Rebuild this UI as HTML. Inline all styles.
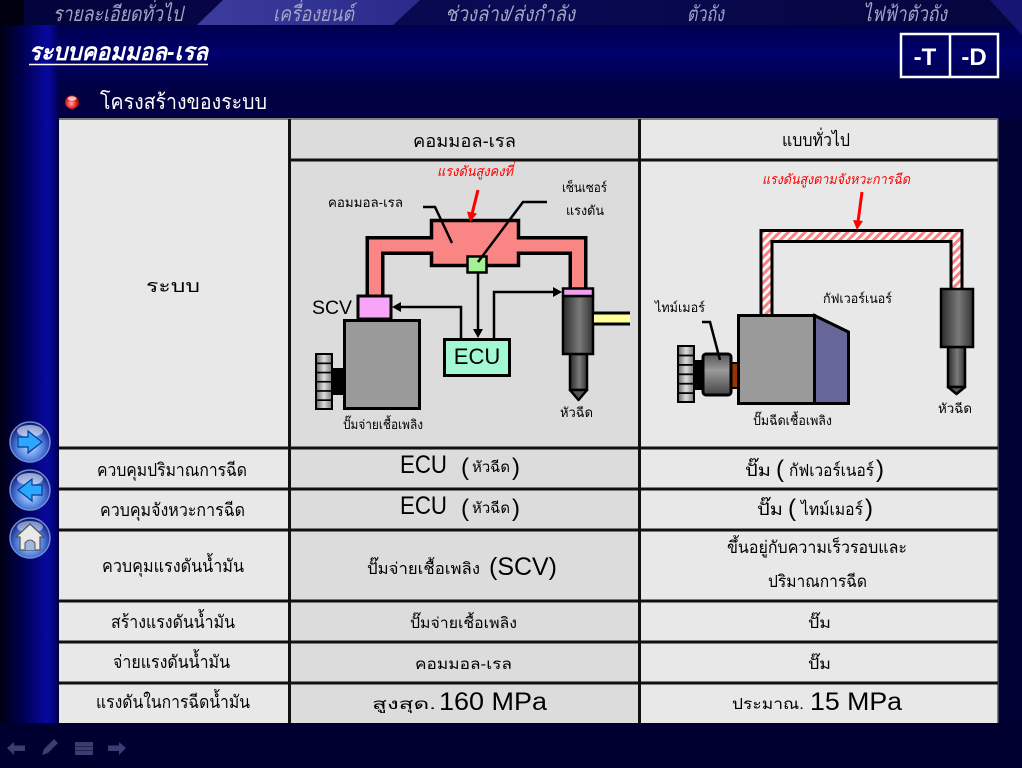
<!DOCTYPE html>
<html><head><meta charset="utf-8"><style>
html,body{margin:0;padding:0;background:#000033;}
body{width:1022px;height:768px;overflow:hidden;}
svg{display:block;}
text{font-family:"Liberation Sans",sans-serif;}
.th{font-family:"Liberation Sans","Noto Sans CJK SC",sans-serif;}
</style></head><body>
<svg width="1022" height="768" viewBox="0 0 1022 768" xmlns="http://www.w3.org/2000/svg">
<defs>
<linearGradient id="navG" x1="0" y1="0" x2="1" y2="0"><stop offset="0" stop-color="#03033a"/><stop offset="0.5" stop-color="#0a0a55"/><stop offset="1" stop-color="#05053e"/></linearGradient>
<linearGradient id="tabG" x1="0" y1="0" x2="1" y2="0"><stop offset="0" stop-color="#3c3c9c"/><stop offset="1" stop-color="#2a2a8a"/></linearGradient>
<linearGradient id="bandG" x1="0" y1="0" x2="0" y2="1"><stop offset="0" stop-color="#00004e"/><stop offset="0.45" stop-color="#00006c"/><stop offset="1" stop-color="#000040"/></linearGradient>
<linearGradient id="sideG" x1="0" y1="0" x2="1" y2="0"><stop offset="0" stop-color="#000015"/><stop offset="0.35" stop-color="#00004a"/><stop offset="0.82" stop-color="#0808a0"/><stop offset="1" stop-color="#000060"/></linearGradient>
<linearGradient id="injG" x1="0" y1="0" x2="1" y2="0"><stop offset="0" stop-color="#2a2a2a"/><stop offset="0.55" stop-color="#7a7a7a"/><stop offset="1" stop-color="#333"/></linearGradient>
<linearGradient id="gearG" x1="0" y1="0" x2="1" y2="0"><stop offset="0" stop-color="#777"/><stop offset="0.5" stop-color="#ddd"/><stop offset="1" stop-color="#888"/></linearGradient>
<linearGradient id="timG" x1="0" y1="0" x2="0" y2="1"><stop offset="0" stop-color="#555"/><stop offset="0.4" stop-color="#9a9a9a"/><stop offset="1" stop-color="#444"/></linearGradient>
<radialGradient id="btnG" cx="0.5" cy="0.62" r="0.6"><stop offset="0" stop-color="#c0e0ff"/><stop offset="0.55" stop-color="#5080e0"/><stop offset="0.9" stop-color="#1a2c90"/><stop offset="1" stop-color="#0c1460"/></radialGradient>
<radialGradient id="ballG" cx="0.45" cy="0.6" r="0.6"><stop offset="0" stop-color="#ffb0b0"/><stop offset="0.6" stop-color="#e02020"/><stop offset="1" stop-color="#700000"/></radialGradient>
<pattern id="hatch" width="6" height="6" patternUnits="userSpaceOnUse" patternTransform="rotate(45)"><rect width="6" height="6" fill="#ffffff"/><rect width="3" height="6" fill="#ff7f7f"/></pattern>
</defs>

<!-- background -->
<rect x="0" y="0" width="1022" height="768" fill="#000033"/>
<rect x="0" y="25" width="1022" height="65" fill="url(#bandG)"/>
<rect x="0" y="88" width="1022" height="31" fill="#000042"/>
<rect x="0" y="0" width="1022" height="25" fill="url(#navG)"/>
<polygon points="223,0 420,0 393,25 197,25" fill="url(#tabG)"/>
<polygon points="990,0 1022,0 1022,35" fill="#1a1a80" opacity="0.8"/>
<rect x="0" y="25" width="58" height="718" fill="url(#sideG)"/>
<rect x="0" y="0" width="24" height="25" fill="#000010"/>
<rect x="0" y="723" width="1022" height="45" fill="#000030"/>

<!-- nav text -->
<g class="th" fill="#a4a4c4" font-style="italic" font-size="21" font-family="Liberation Serif, serif">
<text x="53" y="21" textLength="130" lengthAdjust="spacingAndGlyphs">รายละเอียดทั่วไป</text>
<text x="273" y="21" textLength="81" lengthAdjust="spacingAndGlyphs">เครื่องยนต์</text>
<text x="445" y="21" textLength="130" lengthAdjust="spacingAndGlyphs">ช่วงล่าง/ส่งกำลัง</text>
<text x="687" y="21" textLength="37" lengthAdjust="spacingAndGlyphs">ตัวถัง</text>
<text x="863" y="21" textLength="84" lengthAdjust="spacingAndGlyphs">ไฟฟ้าตัวถัง</text>
</g>

<!-- title -->
<text class="th" x="29" y="60" fill="#ffffff" font-size="24" font-weight="bold" font-style="italic" textLength="179" lengthAdjust="spacingAndGlyphs">ระบบคอมมอล-เรล</text>
<line x1="29" y1="64.5" x2="208" y2="64.5" stroke="#ffffff" stroke-width="1.5"/>

<!-- -T -D -->
<rect x="901" y="34" width="97" height="43" fill="none" stroke="#ffffff" stroke-width="2.5"/>
<line x1="950" y1="34" x2="950" y2="77" stroke="#ffffff" stroke-width="2.5"/>
<text x="925" y="65" fill="#ffffff" font-size="24" font-weight="bold" text-anchor="middle">-T</text>
<text x="974" y="65" fill="#ffffff" font-size="24" font-weight="bold" text-anchor="middle">-D</text>

<!-- heading -->
<circle cx="72" cy="102" r="7" fill="url(#ballG)"/>
<ellipse cx="72" cy="98.5" rx="4.5" ry="2.2" fill="#ffffff" opacity="0.7"/>
<text class="th" x="100" y="109" fill="#ffffff" font-size="21" textLength="167" lengthAdjust="spacingAndGlyphs">โครงสร้างของระบบ</text>

<!-- table backgrounds -->
<rect x="59" y="119" width="230" height="604" fill="#e8e8e8"/>
<rect x="291" y="119" width="348" height="604" fill="#dcdcdc"/>
<rect x="641" y="119" width="357" height="604" fill="#e8e8e8"/>
<rect x="59" y="118" width="939" height="2" fill="#808080"/>
<rect x="997" y="119" width="1.5" height="604" fill="#808080"/>
<!-- table lines -->
<g fill="#111">
<rect x="288" y="119" width="3" height="604"/>
<rect x="638" y="119" width="3" height="604"/>
<rect x="288" y="158.5" width="710" height="3"/>
<rect x="59" y="446.5" width="939" height="3"/>
<rect x="59" y="487.5" width="939" height="3"/>
<rect x="59" y="528.5" width="939" height="3"/>
<rect x="59" y="599.5" width="939" height="3"/>
<rect x="59" y="640.5" width="939" height="3"/>
<rect x="59" y="681.5" width="939" height="3"/>
</g>

<!-- table text -->
<g class="th" fill="#000" font-size="18">
<text x="146" y="292" textLength="54" lengthAdjust="spacingAndGlyphs">ระบบ</text>
<text x="413" y="147" textLength="103" lengthAdjust="spacingAndGlyphs">คอมมอล-เรล</text>
<text x="782" y="146" textLength="68" lengthAdjust="spacingAndGlyphs">แบบทั่วไป</text>

<text x="97" y="476" textLength="150" lengthAdjust="spacingAndGlyphs">ควบคุมปริมาณการฉีด</text>
<text x="100" y="516" textLength="145" lengthAdjust="spacingAndGlyphs">ควบคุมจังหวะการฉีด</text>
<text x="102" y="572" textLength="142" lengthAdjust="spacingAndGlyphs">ควบคุมแรงดันน้ำมัน</text>
<text x="111" y="628" textLength="124" lengthAdjust="spacingAndGlyphs">สร้างแรงดันน้ำมัน</text>
<text x="113" y="668" textLength="117" lengthAdjust="spacingAndGlyphs">จ่ายแรงดันน้ำมัน</text>
<text x="96" y="708" textLength="154" lengthAdjust="spacingAndGlyphs">แรงดันในการฉีดน้ำมัน</text>

<!-- col2 -->
<text x="400" y="473" font-size="25" textLength="47" lengthAdjust="spacingAndGlyphs">ECU</text>
<text x="461" y="475" font-size="24">(</text>
<text x="472" y="472" font-size="15" textLength="38" lengthAdjust="spacingAndGlyphs">หัวฉีด</text>
<text x="512" y="475" font-size="24">)</text>
<text x="400" y="514" font-size="25" textLength="47" lengthAdjust="spacingAndGlyphs">ECU</text>
<text x="461" y="516" font-size="24">(</text>
<text x="472" y="513" font-size="15" textLength="38" lengthAdjust="spacingAndGlyphs">หัวฉีด</text>
<text x="512" y="516" font-size="24">)</text>
<text x="367" y="574" font-size="16" textLength="113" lengthAdjust="spacingAndGlyphs">ปั๊มจ่ายเชื้อเพลิง</text>
<text x="489" y="575" font-size="25" textLength="68" lengthAdjust="spacingAndGlyphs">(SCV)</text>
<text x="410" y="628" font-size="15" textLength="107" lengthAdjust="spacingAndGlyphs">ปั๊มจ่ายเชื้อเพลิง</text>
<text x="415" y="669" font-size="15" textLength="97" lengthAdjust="spacingAndGlyphs">คอมมอล-เรล</text>
<text x="372" y="709" font-size="15" textLength="64" lengthAdjust="spacingAndGlyphs">สูงสุด.</text>
<text x="439" y="710" font-size="25" textLength="108" lengthAdjust="spacingAndGlyphs">160 MPa</text>

<!-- col3 -->
<text x="745" y="476" font-size="17" textLength="26" lengthAdjust="spacingAndGlyphs">ปั๊ม</text>
<text x="776" y="477" font-size="24">(</text>
<text x="789" y="476" font-size="17" textLength="85" lengthAdjust="spacingAndGlyphs">กัฟเวอร์เนอร์</text>
<text x="876" y="477" font-size="24">)</text>
<text x="757" y="515" font-size="17" textLength="26" lengthAdjust="spacingAndGlyphs">ปั๊ม</text>
<text x="788" y="516" font-size="24">(</text>
<text x="801" y="515" font-size="17" textLength="62" lengthAdjust="spacingAndGlyphs">ไทม์เมอร์</text>
<text x="865" y="516" font-size="24">)</text>
<text x="727" y="553" font-size="17" textLength="180" lengthAdjust="spacingAndGlyphs">ขึ้นอยู่กับความเร็วรอบและ</text>
<text x="768" y="587" font-size="17" textLength="99" lengthAdjust="spacingAndGlyphs">ปริมาณการฉีด</text>
<text x="808" y="628" font-size="15" textLength="23" lengthAdjust="spacingAndGlyphs">ปั๊ม</text>
<text x="808" y="669" font-size="15" textLength="23" lengthAdjust="spacingAndGlyphs">ปั๊ม</text>
<text x="732" y="709" font-size="15" textLength="72" lengthAdjust="spacingAndGlyphs">ประมาณ.</text>
<text x="810" y="710" font-size="25" textLength="92" lengthAdjust="spacingAndGlyphs">15 MPa</text>
</g>

<!-- ===== LEFT DIAGRAM ===== -->
<g>
<!-- pipes black -->
<path d="M375,297 V245.5 H436" fill="none" stroke="#000" stroke-width="19" stroke-linejoin="miter"/>
<path d="M514,245.5 H578 V290" fill="none" stroke="#000" stroke-width="19" stroke-linejoin="miter"/>
<!-- rail -->
<rect x="431.5" y="220.5" width="87" height="45" fill="#f98585" stroke="#000" stroke-width="3.5"/>
<!-- pipes pink -->
<path d="M375,297 V245.5 H436" fill="none" stroke="#f98585" stroke-width="12" stroke-linejoin="miter"/>
<path d="M514,245.5 H578 V290" fill="none" stroke="#f98585" stroke-width="12" stroke-linejoin="miter"/>
<!-- sensor -->
<rect x="467.5" y="256.5" width="19" height="16" fill="#a4f094" stroke="#000" stroke-width="2.5"/>
<!-- leaders -->
<path d="M423,207 H435 L452,243" fill="none" stroke="#000" stroke-width="2.5"/>
<path d="M547,202 H523 L478,262" fill="none" stroke="#000" stroke-width="2.5"/>
<!-- signal lines -->
<path d="M478,273 V331" fill="none" stroke="#000" stroke-width="2.5"/>
<polygon points="473,329 483,329 478,338" fill="#000"/>
<path d="M461,338 V307 H400" fill="none" stroke="#000" stroke-width="2.5"/>
<polygon points="401,302 401,312 392,307" fill="#000"/>
<path d="M494,338 V292 H554" fill="none" stroke="#000" stroke-width="2.5"/>
<polygon points="553,287 553,297 562,292" fill="#000"/>
<!-- ECU -->
<rect x="444.5" y="339.5" width="65" height="36" fill="#a2f8d2" stroke="#000" stroke-width="3"/>
<text x="477" y="364" font-size="22" text-anchor="middle" fill="#000">ECU</text>
<!-- SCV -->
<rect x="358" y="296" width="33" height="23" fill="#f8a4f8" stroke="#000" stroke-width="3"/>
<text x="312" y="314" font-size="19" fill="#000" textLength="40" lengthAdjust="spacingAndGlyphs">SCV</text>
<!-- pump -->
<rect x="344.5" y="320.5" width="75" height="88" fill="#9a9a9a" stroke="#000" stroke-width="3"/>
<rect x="333" y="368" width="11" height="27" fill="#000"/>
<rect x="315" y="353" width="18" height="57" fill="#000"/>
<g fill="url(#gearG)">
<rect x="317" y="355" width="14" height="7.5"/><rect x="317" y="364.2" width="14" height="7.5"/><rect x="317" y="373.4" width="14" height="7.5"/><rect x="317" y="382.6" width="14" height="7.5"/><rect x="317" y="391.8" width="14" height="7.5"/><rect x="317" y="401" width="14" height="7"/>
</g>
<!-- injector -->
<rect x="570" y="354" width="17" height="36" fill="url(#injG)" stroke="#000" stroke-width="2.5"/>
<polygon points="570,390 587,390 578.5,400" fill="#555" stroke="#000" stroke-width="2.5" stroke-linejoin="round"/>
<rect x="563" y="296" width="30" height="58" fill="url(#injG)" stroke="#000" stroke-width="2.5"/>
<rect x="563" y="288.5" width="30" height="7.5" fill="#f0a0f0" stroke="#000" stroke-width="2.5"/>
<rect x="594" y="313" width="36" height="11" fill="#ffff99"/>
<line x1="594" y1="313" x2="630" y2="313" stroke="#000" stroke-width="3"/>
<line x1="594" y1="324" x2="630" y2="324" stroke="#000" stroke-width="3"/>
<!-- red arrow -->
<line x1="478" y1="190" x2="472" y2="214" stroke="#ff0000" stroke-width="3"/>
<polygon points="477,213.5 467,211.5 470,222" fill="#ff0000"/>
<!-- labels -->
<g class="th" fill="#000" font-size="13">
<text x="437" y="176" fill="#ff0000" font-style="italic" font-size="14" textLength="76" lengthAdjust="spacingAndGlyphs">แรงดันสูงคงที่</text>
<text x="328" y="207" textLength="75" lengthAdjust="spacingAndGlyphs">คอมมอล-เรล</text>
<text x="562" y="192" textLength="45" lengthAdjust="spacingAndGlyphs">เซ็นเซอร์</text>
<text x="566" y="215" textLength="38" lengthAdjust="spacingAndGlyphs">แรงดัน</text>
<text x="343" y="429" textLength="80" lengthAdjust="spacingAndGlyphs">ปั๊มจ่ายเชื้อเพลิง</text>
<text x="560" y="417" textLength="33" lengthAdjust="spacingAndGlyphs">หัวฉีด</text>
</g>
</g>

<!-- ===== RIGHT DIAGRAM ===== -->
<g>
<path d="M766.5,316 V236 H956.5 V290" fill="none" stroke="#000" stroke-width="14" stroke-linejoin="miter"/>
<path d="M766.5,316 V236 H956.5 V290" fill="none" stroke="url(#hatch)" stroke-width="8" stroke-linejoin="miter"/>
<!-- pump -->
<rect x="738.5" y="315.5" width="76" height="88" fill="#9a9a9a" stroke="#000" stroke-width="3"/>
<polygon points="814.5,315.5 848.5,332 848.5,403.5 814.5,403.5" fill="#666699" stroke="#000" stroke-width="3" stroke-linejoin="miter"/>
<!-- timer, shaft, gear -->
<rect x="731" y="363" width="7" height="25" fill="#993300" stroke="#000" stroke-width="2"/>
<rect x="695" y="360" width="8" height="30" fill="#000"/>
<rect x="703" y="354" width="28" height="41" rx="3" fill="url(#timG)" stroke="#000" stroke-width="3"/>
<rect x="677" y="345" width="18" height="58" fill="#000"/>
<g fill="url(#gearG)">
<rect x="679" y="347" width="14" height="7.6"/><rect x="679" y="356.4" width="14" height="7.6"/><rect x="679" y="365.8" width="14" height="7.6"/><rect x="679" y="375.2" width="14" height="7.6"/><rect x="679" y="384.6" width="14" height="7.6"/><rect x="679" y="394" width="14" height="7"/>
</g>
<path d="M702,322 H710 L720,360" fill="none" stroke="#000" stroke-width="2.5"/>
<!-- injector -->
<rect x="948" y="347" width="17" height="40" fill="url(#injG)" stroke="#000" stroke-width="2.5"/>
<polygon points="948,387 965,387 956.5,394" fill="#555" stroke="#000" stroke-width="2.5" stroke-linejoin="round"/>
<rect x="941" y="289" width="32" height="58" fill="url(#injG)" stroke="#000" stroke-width="2.5"/>
<!-- red arrow -->
<line x1="862" y1="192" x2="858" y2="222" stroke="#ff0000" stroke-width="3"/>
<polygon points="863,221 853,220 857,230" fill="#ff0000"/>
<g class="th" fill="#000" font-size="13">
<text x="762" y="184" fill="#ff0000" font-style="italic" font-size="14" textLength="148" lengthAdjust="spacingAndGlyphs">แรงดันสูงตามจังหวะการฉีด</text>
<text x="655" y="312" textLength="50" lengthAdjust="spacingAndGlyphs">ไทม์เมอร์</text>
<text x="823" y="303" textLength="69" lengthAdjust="spacingAndGlyphs">กัฟเวอร์เนอร์</text>
<text x="753" y="425" textLength="79" lengthAdjust="spacingAndGlyphs">ปั๊มฉีดเชื้อเพลิง</text>
<text x="938" y="413" textLength="34" lengthAdjust="spacingAndGlyphs">หัวฉีด</text>
</g>
</g>

<!-- side buttons -->
<g>
<circle cx="30" cy="442" r="20" fill="url(#btnG)" stroke="#7090d0" stroke-width="1.5"/>
<ellipse cx="30" cy="431" rx="13" ry="6" fill="#ffffff" opacity="0.55"/>
<polygon points="18,437 28,437 28,431 42,442 28,453 28,447 18,447" fill="#2aa8ff" stroke="#0a3a90" stroke-width="1.2"/>

<circle cx="30" cy="490" r="20" fill="url(#btnG)" stroke="#7090d0" stroke-width="1.5"/>
<ellipse cx="30" cy="479" rx="13" ry="6" fill="#ffffff" opacity="0.55"/>
<polygon points="42,485 32,485 32,479 18,490 32,501 32,495 42,495" fill="#2aa8ff" stroke="#0a3a90" stroke-width="1.2"/>

<circle cx="30" cy="538" r="20" fill="url(#btnG)" stroke="#7090d0" stroke-width="1.5"/>
<ellipse cx="30" cy="527" rx="13" ry="6" fill="#ffffff" opacity="0.45"/>
<polygon points="30,524 44,537 40,537 40,550 20,550 20,537 16,537" fill="#e8e8e8" stroke="#555" stroke-width="1.2"/>
<path d="M25,550 V543 Q30,537 35,543 V550" fill="#a0b8e0" stroke="#555" stroke-width="1"/>
</g>

<!-- bottom icons -->
<g fill="#3c3c72">
<polygon points="7,748 14,742 14,745.5 25,745.5 25,751 14,751 14,755"/>
<polygon points="42,755 44,749 54,739 58,743 48,753"/>
<rect x="75" y="742" width="18" height="13"/>
<polygon points="126,748 119,742 119,745.5 108,745.5 108,751 119,751 119,755"/>
</g>
<g stroke="#22224a" stroke-width="1"><line x1="75" y1="746.5" x2="93" y2="746.5"/><line x1="75" y1="750.5" x2="93" y2="750.5"/></g>
</svg>
</body></html>
